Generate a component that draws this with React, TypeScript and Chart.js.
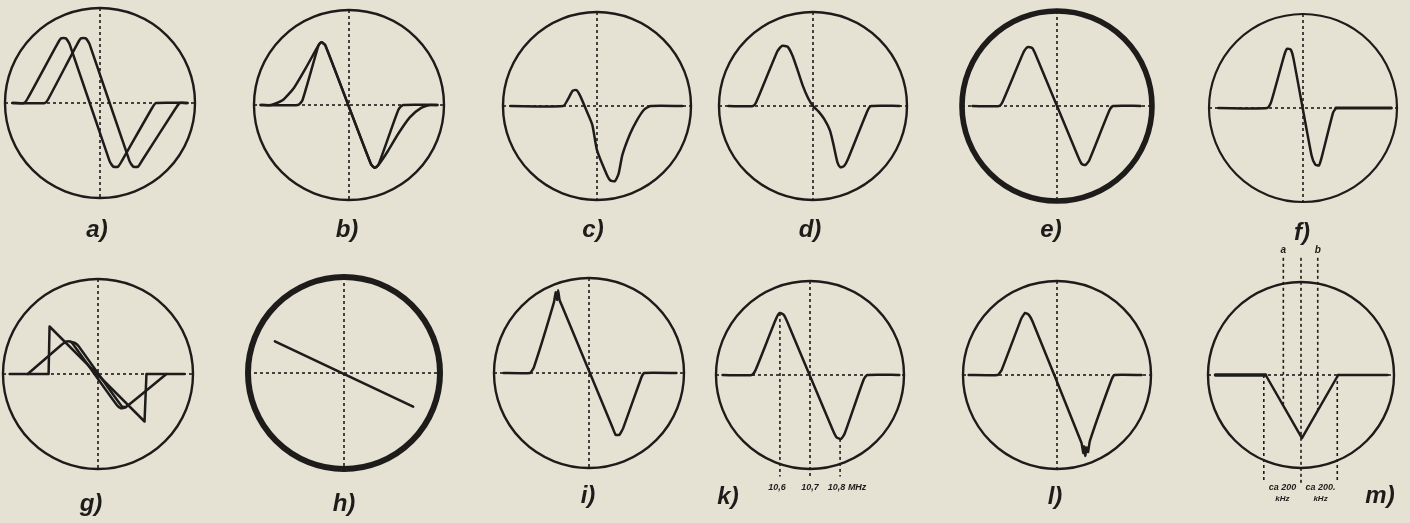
import React, { useEffect, useRef } from "react";
import { Chart, registerables } from "chart.js";

Chart.register(...registerables);

type P = [number, number];

// ---------- traces, in local units (circle radius = 1, y up) ----------
const traceA1: P[] = [[-0.92, 0], [-0.80, 0], [-0.76, 0.05], [-0.45, 0.62], [-0.41, 0.68], [-0.36, 0.68], [-0.32, 0.62], [0.10, -0.61], [0.14, -0.67], [0.19, -0.67], [0.23, -0.61], [0.55, -0.05], [0.59, 0], [0.92, 0]];
const traceA2: P[] = [[-0.92, 0], [-0.58, 0], [-0.54, 0.05], [-0.24, 0.62], [-0.20, 0.68], [-0.15, 0.68], [-0.11, 0.62], [0.31, -0.61], [0.35, -0.67], [0.40, -0.67], [0.44, -0.61], [0.80, -0.05], [0.84, 0], [0.92, 0]];

const traceB1: P[] = [[-0.93, 0], [-0.82, 0], [-0.70, 0.05], [-0.58, 0.18], [-0.46, 0.38], [-0.36, 0.56], [-0.32, 0.63], [-0.29, 0.66], [-0.25, 0.63], [0.23, -0.62], [0.27, -0.66], [0.31, -0.63], [0.40, -0.50], [0.52, -0.30], [0.64, -0.13], [0.76, -0.03], [0.86, 0], [0.93, 0]];
const traceB2: P[] = [[-0.93, 0], [-0.54, 0], [-0.49, 0.05], [-0.32, 0.63], [-0.29, 0.66], [-0.25, 0.63], [0.23, -0.62], [0.27, -0.66], [0.31, -0.63], [0.52, -0.05], [0.57, 0], [0.93, 0]];

const traceC: P[] = [[-0.92, 0], [-0.36, 0], [-0.31, 0.07], [-0.26, 0.16], [-0.22, 0.17], [-0.18, 0.11], [-0.12, -0.03], [-0.05, -0.20], [0.00, -0.47], [0.10, -0.72], [0.14, -0.79], [0.19, -0.80], [0.23, -0.72], [0.27, -0.52], [0.35, -0.30], [0.42, -0.16], [0.50, -0.04], [0.57, 0], [0.91, 0]];

const traceD: P[] = [[-0.90, 0], [-0.64, 0], [-0.60, 0.05], [-0.38, 0.58], [-0.33, 0.64], [-0.27, 0.63], [-0.22, 0.54], [-0.17, 0.40], [-0.11, 0.22], [-0.05, 0.08], [0, 0], [0.06, -0.06], [0.12, -0.14], [0.18, -0.26], [0.22, -0.42], [0.26, -0.60], [0.29, -0.65], [0.33, -0.64], [0.37, -0.57], [0.58, -0.05], [0.62, 0], [0.92, 0]];

const traceE: P[] = [[-0.89, 0], [-0.61, 0], [-0.57, 0.05], [-0.35, 0.57], [-0.31, 0.62], [-0.26, 0.61], [-0.22, 0.53], [0.22, -0.53], [0.26, -0.61], [0.30, -0.62], [0.34, -0.57], [0.55, -0.05], [0.59, 0], [0.88, 0]];

const traceF: P[] = [[-0.90, 0], [-0.38, 0], [-0.34, 0.06], [-0.20, 0.56], [-0.17, 0.63], [-0.13, 0.62], [-0.10, 0.52], [0.09, -0.50], [0.13, -0.60], [0.17, -0.61], [0.20, -0.52], [0.32, -0.05], [0.35, 0]];
const traceFTail: P[] = [[0.35, 0], [0.94, 0]];

const traceG1: P[] = [[-0.93, 0], [-0.52, 0], [-0.51, 0.50], [0.49, -0.50], [0.51, 0], [0.91, 0]];
const traceG2: P[] = [[-0.74, 0], [-0.38, 0.31], [-0.34, 0.34], [-0.29, 0.34], [-0.26, 0.31], [0.20, -0.33], [0.24, -0.36], [0.29, -0.35], [0.72, 0]];
const traceG3: P[] = [[-0.29, 0.34], [-0.25, 0.33], [-0.21, 0.30], [0.25, -0.34], [0.29, -0.35]];

const traceH: P[] = [[-0.72, 0.33], [0.72, -0.35]];

const traceI: P[] = [[-0.90, 0], [-0.62, 0], [-0.58, 0.06], [-0.37, 0.74], [-0.35, 0.85], [-0.335, 0.77], [-0.325, 0.87], [-0.31, 0.77], [-0.29, 0.72], [0.25, -0.58], [0.28, -0.65], [0.32, -0.65], [0.36, -0.58], [0.55, -0.05], [0.58, 0], [0.92, 0]];

const traceK: P[] = [[-0.93, 0], [-0.62, 0], [-0.58, 0.05], [-0.36, 0.60], [-0.32, 0.66], [-0.28, 0.64], [-0.24, 0.56], [0.24, -0.58], [0.28, -0.66], [0.33, -0.68], [0.37, -0.62], [0.57, -0.05], [0.61, 0], [0.95, 0]];
const kTickValues = [-0.32, 0, 0.32];
const kTickLabels = ["10,6", "10,7", "10,8 MHz"];

const traceL: P[] = [[-0.94, 0], [-0.63, 0], [-0.59, 0.05], [-0.38, 0.60], [-0.34, 0.66], [-0.30, 0.64], [-0.26, 0.57], [0.26, -0.72], [0.28, -0.83], [0.29, -0.76], [0.30, -0.86], [0.315, -0.77], [0.33, -0.82], [0.35, -0.70], [0.58, -0.05], [0.61, 0], [0.90, 0]];

const traceMLeft: P[] = [[-0.92, 0], [-0.38, 0]];
const traceMV: P[] = [[-0.38, 0], [0.01, -0.68], [0.40, 0]];
const traceMRight: P[] = [[0.40, 0], [0.93, 0]];
const mMarkX = [-0.19, 0.18];
const mMarkLabels = ["a", "b"];
const mSpanLabels = ["ca 200", "ca 200."];
const mSpanUnit = "kHz";

// ---------- styling ----------
const INK = "#1d1c1a";
const PAPER = "#e5e1d3";
const HALF = 150;
const DOT = [3, 3];
const crossH: P[] = [[-1, 0], [1, 0]];
const crossV: P[] = [[0, 1], [0, -1]];

interface Trace { pts: P[]; w?: number; dash?: number[]; tension?: number; }
interface Note { x: number; y: number; text: string; size?: number; align?: CanvasTextAlign; }
interface PanelSpec {
  id: string; label: string; cx: number; cy: number; r: number; ring: number;
  lx: number; ly: number; traces: Trace[]; guides?: Trace[]; notes?: Note[]; noCrossV?: boolean;
}

const guide = (pts: P[]): Trace => ({ pts, w: 1.6, dash: DOT, tension: 0 });

const PANELS: PanelSpec[] = [
  { id: "a", label: "a)", cx: 100, cy: 103, r: 95, ring: 2.4, lx: 97, ly: 229, traces: [{ pts: traceA1 }, { pts: traceA2 }] },
  { id: "b", label: "b)", cx: 349, cy: 105, r: 95, ring: 2.4, lx: 347, ly: 229, traces: [{ pts: traceB1 }, { pts: traceB2 }] },
  { id: "c", label: "c)", cx: 597, cy: 106, r: 94, ring: 2.4, lx: 593, ly: 229, traces: [{ pts: traceC }] },
  { id: "d", label: "d)", cx: 813, cy: 106, r: 94, ring: 2.4, lx: 810, ly: 229, traces: [{ pts: traceD }] },
  { id: "e", label: "e)", cx: 1057, cy: 106, r: 95, ring: 5.6, lx: 1051, ly: 229, traces: [{ pts: traceE }] },
  { id: "f", label: "f)", cx: 1303, cy: 108, r: 94, ring: 2.2, lx: 1302, ly: 232, traces: [{ pts: traceF }, { pts: traceFTail, w: 3, tension: 0 }] },
  { id: "g", label: "g)", cx: 98, cy: 374, r: 95, ring: 2.4, lx: 91, ly: 503, traces: [{ pts: traceG1, tension: 0 }, { pts: traceG2, tension: 0.2 }, { pts: traceG3, tension: 0.2 }] },
  { id: "h", label: "h)", cx: 344, cy: 373, r: 96, ring: 6, lx: 344, ly: 503, traces: [{ pts: traceH, tension: 0, w: 2.6 }] },
  { id: "i", label: "i)", cx: 589, cy: 373, r: 95, ring: 2.4, lx: 588, ly: 495, traces: [{ pts: traceI, tension: 0.12 }] },
  {
    id: "k", label: "k)", cx: 810, cy: 375, r: 94, ring: 2.4, lx: 728, ly: 496, noCrossV: true,
    traces: [{ pts: traceK }],
    guides: [
      guide([[kTickValues[0], 0.66], [kTickValues[0], -1.08]]),
      guide([[kTickValues[1], 1], [kTickValues[1], -1.08]]),
      guide([[kTickValues[2], -0.68], [kTickValues[2], -1.08]]),
    ],
    notes: [
      { x: kTickValues[0] - 0.03, y: -1.2, text: kTickLabels[0], size: 9 },
      { x: kTickValues[1], y: -1.2, text: kTickLabels[1], size: 9 },
      { x: kTickValues[2] - 0.13, y: -1.2, text: kTickLabels[2], size: 9, align: "left" },
    ],
  },
  { id: "l", label: "l)", cx: 1057, cy: 375, r: 94, ring: 2.4, lx: 1055, ly: 496, traces: [{ pts: traceL, tension: 0.12 }] },
  {
    id: "m", label: "m)", cx: 1301, cy: 375, r: 93, ring: 2.4, lx: 1380, ly: 495, noCrossV: true,
    traces: [{ pts: traceMLeft, w: 3.4, tension: 0 }, { pts: traceMV, tension: 0 }, { pts: traceMRight, tension: 0 }],
    guides: [
      guide([[0, 1.26], [0, -1.16]]),
      guide([[-0.40, 0], [-0.40, -1.16]]),
      guide([[0.39, 0], [0.39, -1.16]]),
      guide([[mMarkX[0], 1.26], [mMarkX[0], -0.33]]),
      guide([[mMarkX[1], 1.26], [mMarkX[1], -0.38]]),
    ],
    notes: [
      { x: mMarkX[0], y: 1.34, text: mMarkLabels[0], size: 10 },
      { x: mMarkX[1], y: 1.34, text: mMarkLabels[1], size: 10 },
      { x: -0.2, y: -1.21, text: mSpanLabels[0], size: 9 },
      { x: -0.2, y: -1.33, text: mSpanUnit, size: 8 },
      { x: 0.21, y: -1.21, text: mSpanLabels[1], size: 9 },
      { x: 0.21, y: -1.33, text: mSpanUnit, size: 8 },
    ],
  },
];

const FONT = '"Liberation Sans", Arial, sans-serif';

const ringPlugin = {
  id: "ring",
  beforeDatasetsDraw(chart: any, _a: any, opts: any) {
    const { ctx } = chart;
    const xs = chart.scales.x;
    const ys = chart.scales.y;
    const cx = xs.getPixelForValue(0);
    const cy = ys.getPixelForValue(0);
    const rad = xs.getPixelForValue(1) - cx;
    ctx.save();
    ctx.beginPath();
    ctx.arc(cx, cy, rad, 0, Math.PI * 2);
    ctx.lineWidth = opts.width || 2.4;
    ctx.strokeStyle = INK;
    ctx.stroke();
    ctx.restore();
  },
};

const notesPlugin = {
  id: "notes",
  afterDatasetsDraw(chart: any, _a: any, opts: any) {
    const items: Note[] = opts.items || [];
    const { ctx } = chart;
    const xs = chart.scales.x;
    const ys = chart.scales.y;
    ctx.save();
    ctx.fillStyle = INK;
    ctx.textBaseline = "middle";
    for (const n of items) {
      ctx.font = `italic bold ${n.size || 9}px ${FONT}`;
      ctx.textAlign = n.align || "center";
      ctx.fillText(n.text, xs.getPixelForValue(n.x), ys.getPixelForValue(n.y));
    }
    ctx.restore();
  },
};

function Panel({ spec }: { spec: PanelSpec }) {
  const ref = useRef<HTMLCanvasElement | null>(null);
  useEffect(() => {
    if (!ref.current) return;
    const all: Trace[] = [
      ...spec.traces.map((t) => ({ w: 2.5, tension: 0.2, ...t })),
      ...(spec.guides || []),
      guide(crossH),
      ...(spec.noCrossV ? [] : [guide(crossV)]),
    ];
    const datasets = all.map((t) => ({
      data: t.pts.map(([x, y]) => ({ x, y })),
      showLine: true,
      borderColor: INK,
      backgroundColor: INK,
      borderWidth: t.w ?? 2.5,
      borderDash: t.dash ?? [],
      borderCapStyle: t.dash ? "butt" : "round",
      borderJoinStyle: "round",
      tension: t.tension ?? 0.2,
      pointRadius: 0,
      pointHoverRadius: 0,
      fill: false,
      clip: false,
    }));
    const lim = HALF / spec.r;
    const chart = new Chart(ref.current, {
      type: "scatter",
      data: { datasets } as any,
      options: {
        animation: false,
        responsive: false,
        maintainAspectRatio: false,
        devicePixelRatio: 1,
        events: [],
        layout: { padding: 0 },
        scales: {
          x: { type: "linear", min: -lim, max: lim, display: false },
          y: { type: "linear", min: -lim, max: lim, display: false },
        },
        plugins: {
          legend: { display: false },
          tooltip: { enabled: false },
          ring: { width: spec.ring },
          notes: { items: spec.notes || [] },
        } as any,
      },
      plugins: [ringPlugin, notesPlugin] as any,
    });
    return () => chart.destroy();
  }, [spec]);
  return (
    <canvas
      ref={ref}
      width={HALF * 2}
      height={HALF * 2}
      style={{ position: "absolute", left: spec.cx - HALF, top: spec.cy - HALF, width: HALF * 2, height: HALF * 2 }}
    />
  );
}

export default function App() {
  useEffect(() => {
    document.body.style.background = PAPER;
  }, []);
  return (
    <div style={{ position: "absolute", left: 0, top: 0, width: 1410, height: 523, background: PAPER, overflow: "hidden" }}>
      {PANELS.map((p) => (
        <Panel key={p.id} spec={p} />
      ))}
      {PANELS.map((p) => (
        <div
          key={p.id + "-label"}
          style={{
            position: "absolute",
            left: p.lx,
            top: p.ly,
            transform: "translate(-50%, -50%)",
            font: `italic bold 24px ${FONT}`,
            color: INK,
            whiteSpace: "nowrap",
            lineHeight: 1,
          }}
        >
          {p.label}
        </div>
      ))}
    </div>
  );
}
